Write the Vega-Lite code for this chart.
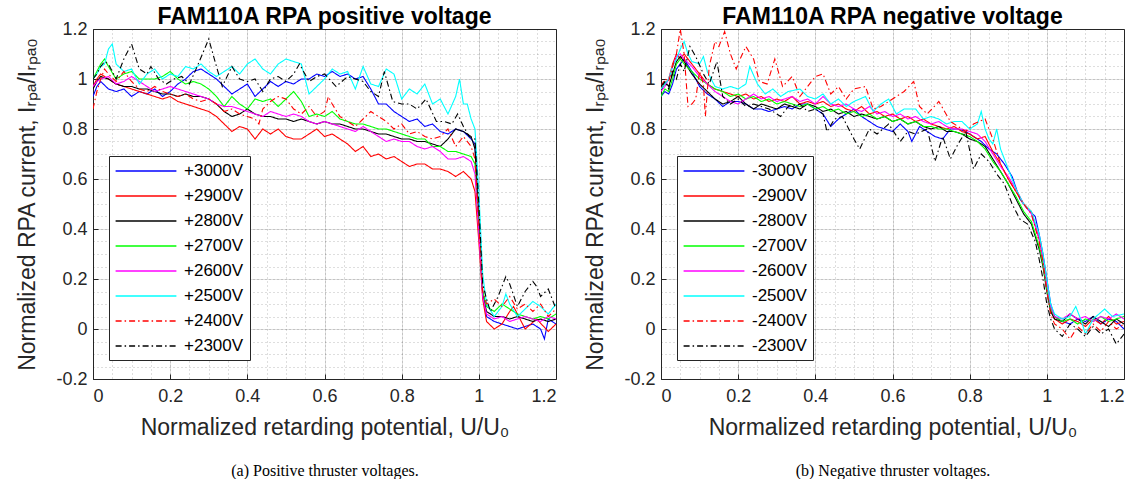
{
"$schema":"https://vega.github.io/schema/vega-lite/v6.json",
"background":"white",
"padding":{"left":16,"top":5,"right":5,"bottom":0},
"bounds":"flush",
"spacing":105,
"config":{
 "font":"Liberation Sans",
 "view":{"stroke":"#262626","strokeWidth":1},
 "axis":{"labelFont":"Liberation Sans","labelFontSize":18,"labelColor":"#262626","titleFont":"Liberation Sans","titleFontSize":23,"titleFontWeight":"normal","titleColor":"#262626","gridColor":"#262626","gridOpacity":0.15,"domain":false,"tickColor":"#262626","ticks":false},
 "legend":{"labelFont":"Liberation Sans","labelFontSize":17,"labelColor":"#000000","symbolType":"M-3.8,0H3.8","symbolSize":256,"symbolStrokeWidth":1.5,"symbolOffset":22,"labelOffset":29,"padding":6,"rowPadding":8,"strokeColor":"#262626","fillColor":"#ffffff"},
 "title":{"font":"Liberation Sans","fontSize":23,"fontWeight":"bold","color":"#000000","offset":-9}
},
"datasets":{
"pos":[
{"v":"+3000V","x":0,"y":0.93},{"v":"+3000V","x":0.01,"y":0.97},{"v":"+3000V","x":0.02,"y":0.99},{"v":"+3000V","x":0.04,"y":0.96},{"v":"+3000V","x":0.06,"y":0.95},{"v":"+3000V","x":0.08,"y":0.96},{"v":"+3000V","x":0.1,"y":0.93},{"v":"+3000V","x":0.12,"y":0.95},{"v":"+3000V","x":0.14,"y":0.94},{"v":"+3000V","x":0.16,"y":0.96},{"v":"+3000V","x":0.18,"y":0.93},{"v":"+3000V","x":0.2,"y":0.95},{"v":"+3000V","x":0.22,"y":0.98},{"v":"+3000V","x":0.24,"y":1.0},{"v":"+3000V","x":0.26,"y":1.03},{"v":"+3000V","x":0.28,"y":1.04},{"v":"+3000V","x":0.3,"y":1.02},{"v":"+3000V","x":0.32,"y":1.0},{"v":"+3000V","x":0.34,"y":0.97},{"v":"+3000V","x":0.36,"y":0.94},{"v":"+3000V","x":0.38,"y":0.96},{"v":"+3000V","x":0.4,"y":0.98},{"v":"+3000V","x":0.42,"y":0.93},{"v":"+3000V","x":0.44,"y":0.96},{"v":"+3000V","x":0.46,"y":0.99},{"v":"+3000V","x":0.48,"y":0.97},{"v":"+3000V","x":0.5,"y":0.99},{"v":"+3000V","x":0.52,"y":0.98},{"v":"+3000V","x":0.54,"y":1.0},{"v":"+3000V","x":0.56,"y":1.0},{"v":"+3000V","x":0.58,"y":1.02},{"v":"+3000V","x":0.6,"y":1.01},{"v":"+3000V","x":0.62,"y":1.03},{"v":"+3000V","x":0.64,"y":1.01},{"v":"+3000V","x":0.66,"y":1.02},{"v":"+3000V","x":0.68,"y":1.0},{"v":"+3000V","x":0.7,"y":1.01},{"v":"+3000V","x":0.72,"y":0.96},{"v":"+3000V","x":0.74,"y":0.9},{"v":"+3000V","x":0.76,"y":0.9},{"v":"+3000V","x":0.78,"y":0.87},{"v":"+3000V","x":0.8,"y":0.85},{"v":"+3000V","x":0.82,"y":0.83},{"v":"+3000V","x":0.84,"y":0.84},{"v":"+3000V","x":0.86,"y":0.81},{"v":"+3000V","x":0.88,"y":0.82},{"v":"+3000V","x":0.9,"y":0.79},{"v":"+3000V","x":0.92,"y":0.78},{"v":"+3000V","x":0.94,"y":0.8},{"v":"+3000V","x":0.96,"y":0.79},{"v":"+3000V","x":0.98,"y":0.76},{"v":"+3000V","x":0.99,"y":0.74},{"v":"+3000V","x":1.0,"y":0.45},{"v":"+3000V","x":1.01,"y":0.15},{"v":"+3000V","x":1.02,"y":0.05},{"v":"+3000V","x":1.04,"y":0.03},{"v":"+3000V","x":1.06,"y":0.02},{"v":"+3000V","x":1.08,"y":0.01},{"v":"+3000V","x":1.1,"y":0.0},{"v":"+3000V","x":1.12,"y":0.01},{"v":"+3000V","x":1.14,"y":0.02},{"v":"+3000V","x":1.16,"y":0.0},{"v":"+3000V","x":1.17,"y":-0.04},{"v":"+3000V","x":1.18,"y":0.04},{"v":"+3000V","x":1.2,"y":0.02},
{"v":"+2900V","x":0,"y":0.97},{"v":"+2900V","x":0.01,"y":1.0},{"v":"+2900V","x":0.02,"y":1.02},{"v":"+2900V","x":0.04,"y":1.0},{"v":"+2900V","x":0.06,"y":0.98},{"v":"+2900V","x":0.08,"y":0.97},{"v":"+2900V","x":0.1,"y":0.96},{"v":"+2900V","x":0.12,"y":0.95},{"v":"+2900V","x":0.14,"y":0.94},{"v":"+2900V","x":0.16,"y":0.93},{"v":"+2900V","x":0.18,"y":0.92},{"v":"+2900V","x":0.2,"y":0.93},{"v":"+2900V","x":0.22,"y":0.91},{"v":"+2900V","x":0.24,"y":0.9},{"v":"+2900V","x":0.26,"y":0.89},{"v":"+2900V","x":0.28,"y":0.88},{"v":"+2900V","x":0.3,"y":0.87},{"v":"+2900V","x":0.32,"y":0.85},{"v":"+2900V","x":0.34,"y":0.82},{"v":"+2900V","x":0.36,"y":0.79},{"v":"+2900V","x":0.38,"y":0.81},{"v":"+2900V","x":0.4,"y":0.8},{"v":"+2900V","x":0.42,"y":0.76},{"v":"+2900V","x":0.44,"y":0.8},{"v":"+2900V","x":0.46,"y":0.78},{"v":"+2900V","x":0.48,"y":0.8},{"v":"+2900V","x":0.5,"y":0.77},{"v":"+2900V","x":0.52,"y":0.76},{"v":"+2900V","x":0.54,"y":0.76},{"v":"+2900V","x":0.56,"y":0.78},{"v":"+2900V","x":0.58,"y":0.8},{"v":"+2900V","x":0.6,"y":0.77},{"v":"+2900V","x":0.62,"y":0.78},{"v":"+2900V","x":0.64,"y":0.76},{"v":"+2900V","x":0.66,"y":0.74},{"v":"+2900V","x":0.68,"y":0.71},{"v":"+2900V","x":0.7,"y":0.73},{"v":"+2900V","x":0.72,"y":0.69},{"v":"+2900V","x":0.74,"y":0.7},{"v":"+2900V","x":0.76,"y":0.68},{"v":"+2900V","x":0.78,"y":0.69},{"v":"+2900V","x":0.8,"y":0.67},{"v":"+2900V","x":0.82,"y":0.65},{"v":"+2900V","x":0.84,"y":0.66},{"v":"+2900V","x":0.86,"y":0.66},{"v":"+2900V","x":0.88,"y":0.64},{"v":"+2900V","x":0.9,"y":0.64},{"v":"+2900V","x":0.92,"y":0.63},{"v":"+2900V","x":0.94,"y":0.61},{"v":"+2900V","x":0.96,"y":0.63},{"v":"+2900V","x":0.98,"y":0.6},{"v":"+2900V","x":0.99,"y":0.55},{"v":"+2900V","x":1.0,"y":0.35},{"v":"+2900V","x":1.01,"y":0.12},{"v":"+2900V","x":1.02,"y":0.03},{"v":"+2900V","x":1.04,"y":0.0},{"v":"+2900V","x":1.06,"y":0.02},{"v":"+2900V","x":1.08,"y":0.07},{"v":"+2900V","x":1.09,"y":0.09},{"v":"+2900V","x":1.12,"y":0.0},{"v":"+2900V","x":1.15,"y":0.04},{"v":"+2900V","x":1.18,"y":-0.01},{"v":"+2900V","x":1.2,"y":0.02},
{"v":"+2800V","x":0,"y":0.96},{"v":"+2800V","x":0.01,"y":0.99},{"v":"+2800V","x":0.02,"y":1.01},{"v":"+2800V","x":0.04,"y":1.0},{"v":"+2800V","x":0.06,"y":0.98},{"v":"+2800V","x":0.08,"y":0.97},{"v":"+2800V","x":0.1,"y":0.97},{"v":"+2800V","x":0.12,"y":0.96},{"v":"+2800V","x":0.14,"y":0.96},{"v":"+2800V","x":0.16,"y":0.95},{"v":"+2800V","x":0.18,"y":0.94},{"v":"+2800V","x":0.2,"y":0.94},{"v":"+2800V","x":0.22,"y":0.93},{"v":"+2800V","x":0.24,"y":0.94},{"v":"+2800V","x":0.26,"y":0.93},{"v":"+2800V","x":0.28,"y":0.93},{"v":"+2800V","x":0.3,"y":0.92},{"v":"+2800V","x":0.32,"y":0.9},{"v":"+2800V","x":0.34,"y":0.87},{"v":"+2800V","x":0.36,"y":0.85},{"v":"+2800V","x":0.38,"y":0.86},{"v":"+2800V","x":0.4,"y":0.88},{"v":"+2800V","x":0.42,"y":0.86},{"v":"+2800V","x":0.44,"y":0.85},{"v":"+2800V","x":0.46,"y":0.85},{"v":"+2800V","x":0.48,"y":0.84},{"v":"+2800V","x":0.5,"y":0.84},{"v":"+2800V","x":0.52,"y":0.83},{"v":"+2800V","x":0.54,"y":0.84},{"v":"+2800V","x":0.56,"y":0.83},{"v":"+2800V","x":0.58,"y":0.82},{"v":"+2800V","x":0.6,"y":0.83},{"v":"+2800V","x":0.62,"y":0.82},{"v":"+2800V","x":0.64,"y":0.82},{"v":"+2800V","x":0.66,"y":0.81},{"v":"+2800V","x":0.68,"y":0.8},{"v":"+2800V","x":0.7,"y":0.8},{"v":"+2800V","x":0.72,"y":0.79},{"v":"+2800V","x":0.74,"y":0.78},{"v":"+2800V","x":0.76,"y":0.78},{"v":"+2800V","x":0.78,"y":0.77},{"v":"+2800V","x":0.8,"y":0.76},{"v":"+2800V","x":0.82,"y":0.76},{"v":"+2800V","x":0.84,"y":0.75},{"v":"+2800V","x":0.86,"y":0.75},{"v":"+2800V","x":0.88,"y":0.74},{"v":"+2800V","x":0.9,"y":0.73},{"v":"+2800V","x":0.92,"y":0.76},{"v":"+2800V","x":0.94,"y":0.8},{"v":"+2800V","x":0.96,"y":0.79},{"v":"+2800V","x":0.98,"y":0.77},{"v":"+2800V","x":0.99,"y":0.72},{"v":"+2800V","x":1.0,"y":0.42},{"v":"+2800V","x":1.01,"y":0.14},{"v":"+2800V","x":1.02,"y":0.07},{"v":"+2800V","x":1.04,"y":0.05},{"v":"+2800V","x":1.06,"y":0.05},{"v":"+2800V","x":1.08,"y":0.04},{"v":"+2800V","x":1.1,"y":0.05},{"v":"+2800V","x":1.12,"y":0.04},{"v":"+2800V","x":1.14,"y":0.03},{"v":"+2800V","x":1.16,"y":0.04},{"v":"+2800V","x":1.18,"y":0.03},{"v":"+2800V","x":1.2,"y":0.04},
{"v":"+2700V","x":0,"y":1.0},{"v":"+2700V","x":0.01,"y":1.03},{"v":"+2700V","x":0.02,"y":1.06},{"v":"+2700V","x":0.03,"y":1.08},{"v":"+2700V","x":0.04,"y":1.05},{"v":"+2700V","x":0.06,"y":1.0},{"v":"+2700V","x":0.08,"y":1.02},{"v":"+2700V","x":0.1,"y":1.03},{"v":"+2700V","x":0.12,"y":1.0},{"v":"+2700V","x":0.14,"y":1.0},{"v":"+2700V","x":0.16,"y":1.0},{"v":"+2700V","x":0.18,"y":1.01},{"v":"+2700V","x":0.2,"y":1.03},{"v":"+2700V","x":0.22,"y":1.0},{"v":"+2700V","x":0.24,"y":0.98},{"v":"+2700V","x":0.26,"y":0.99},{"v":"+2700V","x":0.28,"y":0.98},{"v":"+2700V","x":0.3,"y":0.96},{"v":"+2700V","x":0.32,"y":0.93},{"v":"+2700V","x":0.34,"y":0.89},{"v":"+2700V","x":0.36,"y":0.93},{"v":"+2700V","x":0.38,"y":0.9},{"v":"+2700V","x":0.4,"y":0.88},{"v":"+2700V","x":0.42,"y":0.92},{"v":"+2700V","x":0.44,"y":0.91},{"v":"+2700V","x":0.46,"y":0.92},{"v":"+2700V","x":0.48,"y":0.89},{"v":"+2700V","x":0.5,"y":0.92},{"v":"+2700V","x":0.52,"y":0.95},{"v":"+2700V","x":0.54,"y":0.91},{"v":"+2700V","x":0.56,"y":0.85},{"v":"+2700V","x":0.58,"y":0.86},{"v":"+2700V","x":0.6,"y":0.85},{"v":"+2700V","x":0.62,"y":0.87},{"v":"+2700V","x":0.64,"y":0.84},{"v":"+2700V","x":0.66,"y":0.83},{"v":"+2700V","x":0.68,"y":0.82},{"v":"+2700V","x":0.7,"y":0.82},{"v":"+2700V","x":0.72,"y":0.81},{"v":"+2700V","x":0.74,"y":0.8},{"v":"+2700V","x":0.76,"y":0.8},{"v":"+2700V","x":0.78,"y":0.79},{"v":"+2700V","x":0.8,"y":0.78},{"v":"+2700V","x":0.82,"y":0.77},{"v":"+2700V","x":0.84,"y":0.76},{"v":"+2700V","x":0.86,"y":0.76},{"v":"+2700V","x":0.88,"y":0.73},{"v":"+2700V","x":0.9,"y":0.73},{"v":"+2700V","x":0.92,"y":0.71},{"v":"+2700V","x":0.94,"y":0.71},{"v":"+2700V","x":0.96,"y":0.7},{"v":"+2700V","x":0.98,"y":0.69},{"v":"+2700V","x":0.99,"y":0.66},{"v":"+2700V","x":1.0,"y":0.4},{"v":"+2700V","x":1.01,"y":0.15},{"v":"+2700V","x":1.02,"y":0.09},{"v":"+2700V","x":1.04,"y":0.07},{"v":"+2700V","x":1.06,"y":0.1},{"v":"+2700V","x":1.08,"y":0.08},{"v":"+2700V","x":1.1,"y":0.06},{"v":"+2700V","x":1.12,"y":0.05},{"v":"+2700V","x":1.14,"y":0.04},{"v":"+2700V","x":1.16,"y":0.05},{"v":"+2700V","x":1.18,"y":0.04},{"v":"+2700V","x":1.2,"y":0.06},
{"v":"+2600V","x":0,"y":0.97},{"v":"+2600V","x":0.01,"y":0.99},{"v":"+2600V","x":0.02,"y":1.0},{"v":"+2600V","x":0.04,"y":1.01},{"v":"+2600V","x":0.06,"y":0.98},{"v":"+2600V","x":0.08,"y":0.99},{"v":"+2600V","x":0.1,"y":1.01},{"v":"+2600V","x":0.12,"y":0.99},{"v":"+2600V","x":0.14,"y":0.97},{"v":"+2600V","x":0.16,"y":0.95},{"v":"+2600V","x":0.18,"y":0.96},{"v":"+2600V","x":0.2,"y":0.97},{"v":"+2600V","x":0.22,"y":0.96},{"v":"+2600V","x":0.24,"y":0.95},{"v":"+2600V","x":0.26,"y":0.94},{"v":"+2600V","x":0.28,"y":0.93},{"v":"+2600V","x":0.3,"y":0.92},{"v":"+2600V","x":0.32,"y":0.9},{"v":"+2600V","x":0.34,"y":0.89},{"v":"+2600V","x":0.36,"y":0.89},{"v":"+2600V","x":0.38,"y":0.88},{"v":"+2600V","x":0.4,"y":0.87},{"v":"+2600V","x":0.42,"y":0.86},{"v":"+2600V","x":0.44,"y":0.85},{"v":"+2600V","x":0.46,"y":0.87},{"v":"+2600V","x":0.48,"y":0.86},{"v":"+2600V","x":0.5,"y":0.85},{"v":"+2600V","x":0.52,"y":0.86},{"v":"+2600V","x":0.54,"y":0.85},{"v":"+2600V","x":0.56,"y":0.83},{"v":"+2600V","x":0.58,"y":0.82},{"v":"+2600V","x":0.6,"y":0.83},{"v":"+2600V","x":0.62,"y":0.82},{"v":"+2600V","x":0.64,"y":0.81},{"v":"+2600V","x":0.66,"y":0.8},{"v":"+2600V","x":0.68,"y":0.79},{"v":"+2600V","x":0.7,"y":0.81},{"v":"+2600V","x":0.72,"y":0.79},{"v":"+2600V","x":0.74,"y":0.77},{"v":"+2600V","x":0.76,"y":0.75},{"v":"+2600V","x":0.78,"y":0.76},{"v":"+2600V","x":0.8,"y":0.75},{"v":"+2600V","x":0.82,"y":0.75},{"v":"+2600V","x":0.84,"y":0.73},{"v":"+2600V","x":0.86,"y":0.72},{"v":"+2600V","x":0.88,"y":0.73},{"v":"+2600V","x":0.9,"y":0.71},{"v":"+2600V","x":0.92,"y":0.68},{"v":"+2600V","x":0.94,"y":0.68},{"v":"+2600V","x":0.96,"y":0.69},{"v":"+2600V","x":0.98,"y":0.67},{"v":"+2600V","x":0.99,"y":0.62},{"v":"+2600V","x":1.0,"y":0.38},{"v":"+2600V","x":1.01,"y":0.13},{"v":"+2600V","x":1.02,"y":0.06},{"v":"+2600V","x":1.04,"y":0.04},{"v":"+2600V","x":1.06,"y":0.05},{"v":"+2600V","x":1.08,"y":0.03},{"v":"+2600V","x":1.1,"y":0.04},{"v":"+2600V","x":1.12,"y":0.05},{"v":"+2600V","x":1.14,"y":0.04},{"v":"+2600V","x":1.16,"y":0.03},{"v":"+2600V","x":1.18,"y":0.05},{"v":"+2600V","x":1.2,"y":0.04},
{"v":"+2500V","x":0,"y":1.0},{"v":"+2500V","x":0.01,"y":1.02},{"v":"+2500V","x":0.02,"y":1.05},{"v":"+2500V","x":0.03,"y":1.06},{"v":"+2500V","x":0.04,"y":1.12},{"v":"+2500V","x":0.05,"y":1.14},{"v":"+2500V","x":0.06,"y":1.06},{"v":"+2500V","x":0.08,"y":1.03},{"v":"+2500V","x":0.1,"y":1.04},{"v":"+2500V","x":0.12,"y":0.98},{"v":"+2500V","x":0.14,"y":1.02},{"v":"+2500V","x":0.16,"y":1.04},{"v":"+2500V","x":0.18,"y":1.0},{"v":"+2500V","x":0.2,"y":1.02},{"v":"+2500V","x":0.22,"y":1.01},{"v":"+2500V","x":0.24,"y":1.05},{"v":"+2500V","x":0.26,"y":1.04},{"v":"+2500V","x":0.28,"y":1.06},{"v":"+2500V","x":0.3,"y":1.03},{"v":"+2500V","x":0.32,"y":1.01},{"v":"+2500V","x":0.34,"y":1.03},{"v":"+2500V","x":0.36,"y":1.05},{"v":"+2500V","x":0.38,"y":1.02},{"v":"+2500V","x":0.4,"y":1.06},{"v":"+2500V","x":0.42,"y":1.08},{"v":"+2500V","x":0.44,"y":1.04},{"v":"+2500V","x":0.46,"y":1.02},{"v":"+2500V","x":0.48,"y":1.06},{"v":"+2500V","x":0.5,"y":1.08},{"v":"+2500V","x":0.52,"y":1.07},{"v":"+2500V","x":0.54,"y":1.06},{"v":"+2500V","x":0.56,"y":0.94},{"v":"+2500V","x":0.58,"y":0.97},{"v":"+2500V","x":0.6,"y":1.0},{"v":"+2500V","x":0.62,"y":1.04},{"v":"+2500V","x":0.64,"y":1.02},{"v":"+2500V","x":0.66,"y":1.03},{"v":"+2500V","x":0.68,"y":0.96},{"v":"+2500V","x":0.7,"y":1.05},{"v":"+2500V","x":0.72,"y":0.98},{"v":"+2500V","x":0.74,"y":0.97},{"v":"+2500V","x":0.76,"y":1.04},{"v":"+2500V","x":0.78,"y":1.02},{"v":"+2500V","x":0.8,"y":0.92},{"v":"+2500V","x":0.82,"y":0.96},{"v":"+2500V","x":0.84,"y":0.94},{"v":"+2500V","x":0.86,"y":0.98},{"v":"+2500V","x":0.88,"y":0.9},{"v":"+2500V","x":0.9,"y":0.92},{"v":"+2500V","x":0.92,"y":0.86},{"v":"+2500V","x":0.94,"y":0.93},{"v":"+2500V","x":0.95,"y":1.0},{"v":"+2500V","x":0.96,"y":0.9},{"v":"+2500V","x":0.97,"y":0.9},{"v":"+2500V","x":0.98,"y":0.84},{"v":"+2500V","x":0.99,"y":0.8},{"v":"+2500V","x":1.0,"y":0.55},{"v":"+2500V","x":1.01,"y":0.22},{"v":"+2500V","x":1.02,"y":0.1},{"v":"+2500V","x":1.04,"y":0.05},{"v":"+2500V","x":1.06,"y":0.09},{"v":"+2500V","x":1.07,"y":0.14},{"v":"+2500V","x":1.08,"y":0.1},{"v":"+2500V","x":1.1,"y":0.05},{"v":"+2500V","x":1.12,"y":0.08},{"v":"+2500V","x":1.14,"y":0.11},{"v":"+2500V","x":1.16,"y":0.09},{"v":"+2500V","x":1.18,"y":0.06},{"v":"+2500V","x":1.2,"y":0.1},
{"v":"+2400V","x":0,"y":0.88},{"v":"+2400V","x":0.01,"y":0.95},{"v":"+2400V","x":0.02,"y":1.0},{"v":"+2400V","x":0.03,"y":1.04},{"v":"+2400V","x":0.04,"y":1.02},{"v":"+2400V","x":0.06,"y":0.99},{"v":"+2400V","x":0.08,"y":1.03},{"v":"+2400V","x":0.1,"y":0.99},{"v":"+2400V","x":0.12,"y":0.96},{"v":"+2400V","x":0.14,"y":0.95},{"v":"+2400V","x":0.16,"y":0.97},{"v":"+2400V","x":0.18,"y":0.95},{"v":"+2400V","x":0.2,"y":0.94},{"v":"+2400V","x":0.22,"y":0.93},{"v":"+2400V","x":0.24,"y":0.94},{"v":"+2400V","x":0.26,"y":0.92},{"v":"+2400V","x":0.28,"y":0.91},{"v":"+2400V","x":0.3,"y":0.92},{"v":"+2400V","x":0.32,"y":0.9},{"v":"+2400V","x":0.34,"y":0.87},{"v":"+2400V","x":0.36,"y":0.88},{"v":"+2400V","x":0.38,"y":0.86},{"v":"+2400V","x":0.4,"y":0.85},{"v":"+2400V","x":0.42,"y":0.84},{"v":"+2400V","x":0.43,"y":0.82},{"v":"+2400V","x":0.44,"y":0.88},{"v":"+2400V","x":0.46,"y":0.91},{"v":"+2400V","x":0.48,"y":0.93},{"v":"+2400V","x":0.5,"y":0.92},{"v":"+2400V","x":0.52,"y":0.88},{"v":"+2400V","x":0.54,"y":0.86},{"v":"+2400V","x":0.56,"y":0.89},{"v":"+2400V","x":0.58,"y":0.85},{"v":"+2400V","x":0.6,"y":0.87},{"v":"+2400V","x":0.61,"y":0.93},{"v":"+2400V","x":0.62,"y":0.9},{"v":"+2400V","x":0.64,"y":0.85},{"v":"+2400V","x":0.66,"y":0.83},{"v":"+2400V","x":0.68,"y":0.81},{"v":"+2400V","x":0.7,"y":0.84},{"v":"+2400V","x":0.72,"y":0.87},{"v":"+2400V","x":0.74,"y":0.85},{"v":"+2400V","x":0.76,"y":0.83},{"v":"+2400V","x":0.78,"y":0.8},{"v":"+2400V","x":0.8,"y":0.82},{"v":"+2400V","x":0.82,"y":0.78},{"v":"+2400V","x":0.84,"y":0.79},{"v":"+2400V","x":0.86,"y":0.77},{"v":"+2400V","x":0.88,"y":0.76},{"v":"+2400V","x":0.9,"y":0.77},{"v":"+2400V","x":0.92,"y":0.8},{"v":"+2400V","x":0.94,"y":0.73},{"v":"+2400V","x":0.96,"y":0.77},{"v":"+2400V","x":0.98,"y":0.73},{"v":"+2400V","x":0.99,"y":0.68},{"v":"+2400V","x":1.0,"y":0.42},{"v":"+2400V","x":1.01,"y":0.15},{"v":"+2400V","x":1.02,"y":0.1},{"v":"+2400V","x":1.04,"y":0.12},{"v":"+2400V","x":1.06,"y":0.09},{"v":"+2400V","x":1.08,"y":0.13},{"v":"+2400V","x":1.1,"y":0.08},{"v":"+2400V","x":1.12,"y":0.1},{"v":"+2400V","x":1.14,"y":0.07},{"v":"+2400V","x":1.16,"y":0.1},{"v":"+2400V","x":1.18,"y":0.05},{"v":"+2400V","x":1.2,"y":0.08},
{"v":"+2300V","x":0,"y":1.0},{"v":"+2300V","x":0.01,"y":1.02},{"v":"+2300V","x":0.02,"y":1.05},{"v":"+2300V","x":0.03,"y":1.07},{"v":"+2300V","x":0.04,"y":1.06},{"v":"+2300V","x":0.06,"y":1.0},{"v":"+2300V","x":0.08,"y":1.08},{"v":"+2300V","x":0.1,"y":1.14},{"v":"+2300V","x":0.12,"y":1.04},{"v":"+2300V","x":0.14,"y":1.02},{"v":"+2300V","x":0.15,"y":1.05},{"v":"+2300V","x":0.17,"y":1.0},{"v":"+2300V","x":0.19,"y":0.98},{"v":"+2300V","x":0.21,"y":1.0},{"v":"+2300V","x":0.23,"y":1.01},{"v":"+2300V","x":0.25,"y":0.98},{"v":"+2300V","x":0.27,"y":1.05},{"v":"+2300V","x":0.3,"y":1.16},{"v":"+2300V","x":0.32,"y":1.05},{"v":"+2300V","x":0.335,"y":0.97},{"v":"+2300V","x":0.36,"y":1.05},{"v":"+2300V","x":0.38,"y":1.0},{"v":"+2300V","x":0.4,"y":0.99},{"v":"+2300V","x":0.42,"y":1.0},{"v":"+2300V","x":0.44,"y":0.95},{"v":"+2300V","x":0.46,"y":1.0},{"v":"+2300V","x":0.48,"y":1.01},{"v":"+2300V","x":0.5,"y":0.99},{"v":"+2300V","x":0.52,"y":1.02},{"v":"+2300V","x":0.535,"y":1.06},{"v":"+2300V","x":0.56,"y":0.99},{"v":"+2300V","x":0.58,"y":1.01},{"v":"+2300V","x":0.6,"y":1.02},{"v":"+2300V","x":0.63,"y":0.97},{"v":"+2300V","x":0.66,"y":1.01},{"v":"+2300V","x":0.68,"y":1.0},{"v":"+2300V","x":0.7,"y":0.99},{"v":"+2300V","x":0.72,"y":0.95},{"v":"+2300V","x":0.74,"y":0.93},{"v":"+2300V","x":0.755,"y":1.03},{"v":"+2300V","x":0.777,"y":0.91},{"v":"+2300V","x":0.8,"y":0.9},{"v":"+2300V","x":0.82,"y":0.9},{"v":"+2300V","x":0.84,"y":0.88},{"v":"+2300V","x":0.863,"y":0.92},{"v":"+2300V","x":0.89,"y":0.83},{"v":"+2300V","x":0.91,"y":0.83},{"v":"+2300V","x":0.93,"y":0.82},{"v":"+2300V","x":0.945,"y":0.86},{"v":"+2300V","x":0.96,"y":0.81},{"v":"+2300V","x":0.975,"y":0.77},{"v":"+2300V","x":0.99,"y":0.76},{"v":"+2300V","x":1.0,"y":0.5},{"v":"+2300V","x":1.01,"y":0.18},{"v":"+2300V","x":1.02,"y":0.12},{"v":"+2300V","x":1.03,"y":0.07},{"v":"+2300V","x":1.05,"y":0.13},{"v":"+2300V","x":1.07,"y":0.21},{"v":"+2300V","x":1.08,"y":0.18},{"v":"+2300V","x":1.1,"y":0.09},{"v":"+2300V","x":1.12,"y":0.15},{"v":"+2300V","x":1.14,"y":0.19},{"v":"+2300V","x":1.15,"y":0.17},{"v":"+2300V","x":1.16,"y":0.13},{"v":"+2300V","x":1.18,"y":0.16},{"v":"+2300V","x":1.2,"y":0.08}
],
"neg":[
{"v":"-3000V","x":0,"y":0.93},{"v":"-3000V","x":0.01,"y":0.95},{"v":"-3000V","x":0.02,"y":0.94},{"v":"-3000V","x":0.03,"y":0.98},{"v":"-3000V","x":0.04,"y":1.04},{"v":"-3000V","x":0.05,"y":1.06},{"v":"-3000V","x":0.06,"y":1.08},{"v":"-3000V","x":0.08,"y":1.03},{"v":"-3000V","x":0.1,"y":0.97},{"v":"-3000V","x":0.12,"y":0.94},{"v":"-3000V","x":0.14,"y":0.92},{"v":"-3000V","x":0.16,"y":0.89},{"v":"-3000V","x":0.18,"y":0.91},{"v":"-3000V","x":0.2,"y":0.91},{"v":"-3000V","x":0.22,"y":0.9},{"v":"-3000V","x":0.24,"y":0.88},{"v":"-3000V","x":0.26,"y":0.88},{"v":"-3000V","x":0.28,"y":0.87},{"v":"-3000V","x":0.3,"y":0.88},{"v":"-3000V","x":0.32,"y":0.89},{"v":"-3000V","x":0.34,"y":0.88},{"v":"-3000V","x":0.36,"y":0.9},{"v":"-3000V","x":0.38,"y":0.9},{"v":"-3000V","x":0.4,"y":0.88},{"v":"-3000V","x":0.42,"y":0.86},{"v":"-3000V","x":0.44,"y":0.81},{"v":"-3000V","x":0.46,"y":0.84},{"v":"-3000V","x":0.48,"y":0.86},{"v":"-3000V","x":0.5,"y":0.88},{"v":"-3000V","x":0.52,"y":0.85},{"v":"-3000V","x":0.54,"y":0.83},{"v":"-3000V","x":0.56,"y":0.81},{"v":"-3000V","x":0.58,"y":0.8},{"v":"-3000V","x":0.6,"y":0.79},{"v":"-3000V","x":0.62,"y":0.82},{"v":"-3000V","x":0.64,"y":0.79},{"v":"-3000V","x":0.65,"y":0.75},{"v":"-3000V","x":0.67,"y":0.81},{"v":"-3000V","x":0.69,"y":0.79},{"v":"-3000V","x":0.71,"y":0.77},{"v":"-3000V","x":0.73,"y":0.76},{"v":"-3000V","x":0.75,"y":0.8},{"v":"-3000V","x":0.77,"y":0.8},{"v":"-3000V","x":0.79,"y":0.79},{"v":"-3000V","x":0.81,"y":0.77},{"v":"-3000V","x":0.83,"y":0.75},{"v":"-3000V","x":0.85,"y":0.72},{"v":"-3000V","x":0.87,"y":0.7},{"v":"-3000V","x":0.89,"y":0.66},{"v":"-3000V","x":0.91,"y":0.61},{"v":"-3000V","x":0.93,"y":0.52},{"v":"-3000V","x":0.95,"y":0.48},{"v":"-3000V","x":0.97,"y":0.45},{"v":"-3000V","x":0.98,"y":0.38},{"v":"-3000V","x":0.99,"y":0.3},{"v":"-3000V","x":1.0,"y":0.2},{"v":"-3000V","x":1.01,"y":0.1},{"v":"-3000V","x":1.02,"y":0.05},{"v":"-3000V","x":1.04,"y":0.03},{"v":"-3000V","x":1.06,"y":0.02},{"v":"-3000V","x":1.08,"y":0.04},{"v":"-3000V","x":1.1,"y":0.03},{"v":"-3000V","x":1.12,"y":0.05},{"v":"-3000V","x":1.14,"y":0.02},{"v":"-3000V","x":1.16,"y":0.04},{"v":"-3000V","x":1.18,"y":0.03},{"v":"-3000V","x":1.2,"y":0.0},
{"v":"-2900V","x":0,"y":0.96},{"v":"-2900V","x":0.01,"y":0.98},{"v":"-2900V","x":0.02,"y":1.0},{"v":"-2900V","x":0.03,"y":1.06},{"v":"-2900V","x":0.04,"y":1.1},{"v":"-2900V","x":0.05,"y":1.08},{"v":"-2900V","x":0.06,"y":1.1},{"v":"-2900V","x":0.08,"y":1.06},{"v":"-2900V","x":0.1,"y":1.02},{"v":"-2900V","x":0.12,"y":0.98},{"v":"-2900V","x":0.14,"y":0.96},{"v":"-2900V","x":0.16,"y":0.95},{"v":"-2900V","x":0.18,"y":0.94},{"v":"-2900V","x":0.2,"y":0.93},{"v":"-2900V","x":0.22,"y":0.94},{"v":"-2900V","x":0.24,"y":0.92},{"v":"-2900V","x":0.26,"y":0.93},{"v":"-2900V","x":0.28,"y":0.91},{"v":"-2900V","x":0.3,"y":0.92},{"v":"-2900V","x":0.32,"y":0.91},{"v":"-2900V","x":0.34,"y":0.93},{"v":"-2900V","x":0.36,"y":0.9},{"v":"-2900V","x":0.38,"y":0.91},{"v":"-2900V","x":0.4,"y":0.9},{"v":"-2900V","x":0.42,"y":0.91},{"v":"-2900V","x":0.44,"y":0.89},{"v":"-2900V","x":0.46,"y":0.9},{"v":"-2900V","x":0.48,"y":0.88},{"v":"-2900V","x":0.5,"y":0.87},{"v":"-2900V","x":0.52,"y":0.89},{"v":"-2900V","x":0.54,"y":0.86},{"v":"-2900V","x":0.56,"y":0.87},{"v":"-2900V","x":0.58,"y":0.85},{"v":"-2900V","x":0.6,"y":0.86},{"v":"-2900V","x":0.62,"y":0.84},{"v":"-2900V","x":0.64,"y":0.85},{"v":"-2900V","x":0.66,"y":0.83},{"v":"-2900V","x":0.68,"y":0.84},{"v":"-2900V","x":0.7,"y":0.82},{"v":"-2900V","x":0.72,"y":0.81},{"v":"-2900V","x":0.74,"y":0.8},{"v":"-2900V","x":0.76,"y":0.81},{"v":"-2900V","x":0.78,"y":0.79},{"v":"-2900V","x":0.8,"y":0.78},{"v":"-2900V","x":0.82,"y":0.76},{"v":"-2900V","x":0.84,"y":0.77},{"v":"-2900V","x":0.86,"y":0.71},{"v":"-2900V","x":0.88,"y":0.66},{"v":"-2900V","x":0.9,"y":0.6},{"v":"-2900V","x":0.92,"y":0.55},{"v":"-2900V","x":0.94,"y":0.5},{"v":"-2900V","x":0.96,"y":0.47},{"v":"-2900V","x":0.98,"y":0.36},{"v":"-2900V","x":0.99,"y":0.28},{"v":"-2900V","x":1.0,"y":0.17},{"v":"-2900V","x":1.01,"y":0.08},{"v":"-2900V","x":1.02,"y":0.04},{"v":"-2900V","x":1.04,"y":0.02},{"v":"-2900V","x":1.06,"y":0.04},{"v":"-2900V","x":1.08,"y":0.03},{"v":"-2900V","x":1.1,"y":0.01},{"v":"-2900V","x":1.12,"y":0.04},{"v":"-2900V","x":1.14,"y":0.02},{"v":"-2900V","x":1.16,"y":0.05},{"v":"-2900V","x":1.18,"y":0.02},{"v":"-2900V","x":1.2,"y":0.03},
{"v":"-2800V","x":0,"y":0.95},{"v":"-2800V","x":0.01,"y":0.99},{"v":"-2800V","x":0.02,"y":0.97},{"v":"-2800V","x":0.03,"y":1.02},{"v":"-2800V","x":0.04,"y":1.07},{"v":"-2800V","x":0.05,"y":1.09},{"v":"-2800V","x":0.06,"y":1.07},{"v":"-2800V","x":0.08,"y":1.02},{"v":"-2800V","x":0.1,"y":0.98},{"v":"-2800V","x":0.12,"y":0.95},{"v":"-2800V","x":0.14,"y":0.92},{"v":"-2800V","x":0.16,"y":0.9},{"v":"-2800V","x":0.18,"y":0.91},{"v":"-2800V","x":0.2,"y":0.93},{"v":"-2800V","x":0.22,"y":0.9},{"v":"-2800V","x":0.24,"y":0.88},{"v":"-2800V","x":0.26,"y":0.9},{"v":"-2800V","x":0.28,"y":0.89},{"v":"-2800V","x":0.3,"y":0.88},{"v":"-2800V","x":0.32,"y":0.9},{"v":"-2800V","x":0.34,"y":0.89},{"v":"-2800V","x":0.36,"y":0.88},{"v":"-2800V","x":0.38,"y":0.9},{"v":"-2800V","x":0.4,"y":0.89},{"v":"-2800V","x":0.42,"y":0.87},{"v":"-2800V","x":0.44,"y":0.88},{"v":"-2800V","x":0.46,"y":0.86},{"v":"-2800V","x":0.48,"y":0.87},{"v":"-2800V","x":0.5,"y":0.85},{"v":"-2800V","x":0.52,"y":0.86},{"v":"-2800V","x":0.54,"y":0.85},{"v":"-2800V","x":0.56,"y":0.84},{"v":"-2800V","x":0.58,"y":0.85},{"v":"-2800V","x":0.6,"y":0.83},{"v":"-2800V","x":0.62,"y":0.84},{"v":"-2800V","x":0.64,"y":0.82},{"v":"-2800V","x":0.66,"y":0.83},{"v":"-2800V","x":0.68,"y":0.81},{"v":"-2800V","x":0.7,"y":0.8},{"v":"-2800V","x":0.72,"y":0.81},{"v":"-2800V","x":0.74,"y":0.79},{"v":"-2800V","x":0.76,"y":0.79},{"v":"-2800V","x":0.78,"y":0.78},{"v":"-2800V","x":0.8,"y":0.76},{"v":"-2800V","x":0.82,"y":0.75},{"v":"-2800V","x":0.84,"y":0.73},{"v":"-2800V","x":0.86,"y":0.68},{"v":"-2800V","x":0.88,"y":0.63},{"v":"-2800V","x":0.9,"y":0.58},{"v":"-2800V","x":0.92,"y":0.52},{"v":"-2800V","x":0.94,"y":0.46},{"v":"-2800V","x":0.96,"y":0.42},{"v":"-2800V","x":0.98,"y":0.32},{"v":"-2800V","x":0.99,"y":0.25},{"v":"-2800V","x":1.0,"y":0.15},{"v":"-2800V","x":1.01,"y":0.07},{"v":"-2800V","x":1.02,"y":0.04},{"v":"-2800V","x":1.04,"y":0.03},{"v":"-2800V","x":1.06,"y":0.06},{"v":"-2800V","x":1.08,"y":0.04},{"v":"-2800V","x":1.1,"y":0.02},{"v":"-2800V","x":1.12,"y":0.05},{"v":"-2800V","x":1.14,"y":0.03},{"v":"-2800V","x":1.16,"y":0.01},{"v":"-2800V","x":1.18,"y":0.04},{"v":"-2800V","x":1.2,"y":0.02},
{"v":"-2700V","x":0,"y":0.93},{"v":"-2700V","x":0.01,"y":0.96},{"v":"-2700V","x":0.02,"y":0.95},{"v":"-2700V","x":0.03,"y":1.0},{"v":"-2700V","x":0.04,"y":1.06},{"v":"-2700V","x":0.05,"y":1.08},{"v":"-2700V","x":0.06,"y":1.06},{"v":"-2700V","x":0.08,"y":1.03},{"v":"-2700V","x":0.1,"y":1.0},{"v":"-2700V","x":0.12,"y":0.98},{"v":"-2700V","x":0.14,"y":0.96},{"v":"-2700V","x":0.16,"y":0.95},{"v":"-2700V","x":0.18,"y":0.93},{"v":"-2700V","x":0.2,"y":0.94},{"v":"-2700V","x":0.22,"y":0.92},{"v":"-2700V","x":0.24,"y":0.93},{"v":"-2700V","x":0.26,"y":0.91},{"v":"-2700V","x":0.28,"y":0.92},{"v":"-2700V","x":0.3,"y":0.9},{"v":"-2700V","x":0.32,"y":0.91},{"v":"-2700V","x":0.34,"y":0.9},{"v":"-2700V","x":0.36,"y":0.89},{"v":"-2700V","x":0.38,"y":0.9},{"v":"-2700V","x":0.4,"y":0.88},{"v":"-2700V","x":0.42,"y":0.89},{"v":"-2700V","x":0.44,"y":0.87},{"v":"-2700V","x":0.46,"y":0.88},{"v":"-2700V","x":0.48,"y":0.86},{"v":"-2700V","x":0.5,"y":0.87},{"v":"-2700V","x":0.52,"y":0.85},{"v":"-2700V","x":0.54,"y":0.86},{"v":"-2700V","x":0.56,"y":0.84},{"v":"-2700V","x":0.58,"y":0.85},{"v":"-2700V","x":0.6,"y":0.83},{"v":"-2700V","x":0.62,"y":0.84},{"v":"-2700V","x":0.64,"y":0.82},{"v":"-2700V","x":0.66,"y":0.83},{"v":"-2700V","x":0.68,"y":0.81},{"v":"-2700V","x":0.7,"y":0.81},{"v":"-2700V","x":0.72,"y":0.8},{"v":"-2700V","x":0.74,"y":0.8},{"v":"-2700V","x":0.76,"y":0.79},{"v":"-2700V","x":0.78,"y":0.78},{"v":"-2700V","x":0.8,"y":0.77},{"v":"-2700V","x":0.82,"y":0.75},{"v":"-2700V","x":0.84,"y":0.72},{"v":"-2700V","x":0.86,"y":0.67},{"v":"-2700V","x":0.88,"y":0.63},{"v":"-2700V","x":0.9,"y":0.58},{"v":"-2700V","x":0.92,"y":0.53},{"v":"-2700V","x":0.94,"y":0.47},{"v":"-2700V","x":0.96,"y":0.43},{"v":"-2700V","x":0.98,"y":0.33},{"v":"-2700V","x":0.99,"y":0.26},{"v":"-2700V","x":1.0,"y":0.16},{"v":"-2700V","x":1.01,"y":0.08},{"v":"-2700V","x":1.02,"y":0.05},{"v":"-2700V","x":1.04,"y":0.03},{"v":"-2700V","x":1.06,"y":0.04},{"v":"-2700V","x":1.08,"y":0.02},{"v":"-2700V","x":1.1,"y":0.04},{"v":"-2700V","x":1.12,"y":0.03},{"v":"-2700V","x":1.14,"y":0.05},{"v":"-2700V","x":1.16,"y":0.03},{"v":"-2700V","x":1.18,"y":0.04},{"v":"-2700V","x":1.2,"y":0.05},
{"v":"-2600V","x":0,"y":0.95},{"v":"-2600V","x":0.01,"y":0.97},{"v":"-2600V","x":0.02,"y":1.0},{"v":"-2600V","x":0.03,"y":1.05},{"v":"-2600V","x":0.04,"y":1.09},{"v":"-2600V","x":0.05,"y":1.1},{"v":"-2600V","x":0.06,"y":1.08},{"v":"-2600V","x":0.08,"y":1.05},{"v":"-2600V","x":0.1,"y":1.01},{"v":"-2600V","x":0.12,"y":0.98},{"v":"-2600V","x":0.14,"y":0.95},{"v":"-2600V","x":0.16,"y":0.93},{"v":"-2600V","x":0.18,"y":0.91},{"v":"-2600V","x":0.2,"y":0.9},{"v":"-2600V","x":0.22,"y":0.92},{"v":"-2600V","x":0.24,"y":0.94},{"v":"-2600V","x":0.26,"y":0.92},{"v":"-2600V","x":0.28,"y":0.93},{"v":"-2600V","x":0.3,"y":0.91},{"v":"-2600V","x":0.32,"y":0.92},{"v":"-2600V","x":0.34,"y":0.93},{"v":"-2600V","x":0.36,"y":0.91},{"v":"-2600V","x":0.38,"y":0.92},{"v":"-2600V","x":0.4,"y":0.9},{"v":"-2600V","x":0.42,"y":0.93},{"v":"-2600V","x":0.44,"y":0.9},{"v":"-2600V","x":0.46,"y":0.89},{"v":"-2600V","x":0.48,"y":0.9},{"v":"-2600V","x":0.5,"y":0.88},{"v":"-2600V","x":0.52,"y":0.87},{"v":"-2600V","x":0.54,"y":0.89},{"v":"-2600V","x":0.56,"y":0.86},{"v":"-2600V","x":0.58,"y":0.87},{"v":"-2600V","x":0.6,"y":0.85},{"v":"-2600V","x":0.62,"y":0.86},{"v":"-2600V","x":0.64,"y":0.84},{"v":"-2600V","x":0.66,"y":0.85},{"v":"-2600V","x":0.68,"y":0.83},{"v":"-2600V","x":0.7,"y":0.82},{"v":"-2600V","x":0.72,"y":0.83},{"v":"-2600V","x":0.74,"y":0.81},{"v":"-2600V","x":0.76,"y":0.8},{"v":"-2600V","x":0.78,"y":0.8},{"v":"-2600V","x":0.8,"y":0.79},{"v":"-2600V","x":0.82,"y":0.78},{"v":"-2600V","x":0.84,"y":0.75},{"v":"-2600V","x":0.86,"y":0.7},{"v":"-2600V","x":0.88,"y":0.65},{"v":"-2600V","x":0.9,"y":0.61},{"v":"-2600V","x":0.92,"y":0.56},{"v":"-2600V","x":0.94,"y":0.5},{"v":"-2600V","x":0.96,"y":0.46},{"v":"-2600V","x":0.98,"y":0.36},{"v":"-2600V","x":0.99,"y":0.28},{"v":"-2600V","x":1.0,"y":0.18},{"v":"-2600V","x":1.01,"y":0.09},{"v":"-2600V","x":1.02,"y":0.05},{"v":"-2600V","x":1.04,"y":0.04},{"v":"-2600V","x":1.06,"y":0.06},{"v":"-2600V","x":1.08,"y":0.04},{"v":"-2600V","x":1.1,"y":0.05},{"v":"-2600V","x":1.12,"y":0.03},{"v":"-2600V","x":1.14,"y":0.05},{"v":"-2600V","x":1.16,"y":0.04},{"v":"-2600V","x":1.18,"y":0.06},{"v":"-2600V","x":1.2,"y":0.04},
{"v":"-2500V","x":0,"y":0.96},{"v":"-2500V","x":0.01,"y":0.98},{"v":"-2500V","x":0.02,"y":1.0},{"v":"-2500V","x":0.03,"y":1.05},{"v":"-2500V","x":0.04,"y":1.08},{"v":"-2500V","x":0.05,"y":1.12},{"v":"-2500V","x":0.06,"y":1.15},{"v":"-2500V","x":0.07,"y":1.1},{"v":"-2500V","x":0.08,"y":1.07},{"v":"-2500V","x":0.1,"y":1.06},{"v":"-2500V","x":0.11,"y":1.09},{"v":"-2500V","x":0.12,"y":1.03},{"v":"-2500V","x":0.14,"y":0.97},{"v":"-2500V","x":0.16,"y":0.96},{"v":"-2500V","x":0.18,"y":0.97},{"v":"-2500V","x":0.2,"y":0.96},{"v":"-2500V","x":0.22,"y":0.98},{"v":"-2500V","x":0.23,"y":1.05},{"v":"-2500V","x":0.25,"y":0.98},{"v":"-2500V","x":0.27,"y":0.94},{"v":"-2500V","x":0.29,"y":0.96},{"v":"-2500V","x":0.31,"y":0.93},{"v":"-2500V","x":0.33,"y":0.95},{"v":"-2500V","x":0.36,"y":0.96},{"v":"-2500V","x":0.38,"y":0.93},{"v":"-2500V","x":0.4,"y":0.92},{"v":"-2500V","x":0.42,"y":0.94},{"v":"-2500V","x":0.44,"y":0.9},{"v":"-2500V","x":0.46,"y":0.92},{"v":"-2500V","x":0.48,"y":0.89},{"v":"-2500V","x":0.5,"y":0.91},{"v":"-2500V","x":0.53,"y":0.93},{"v":"-2500V","x":0.55,"y":0.87},{"v":"-2500V","x":0.57,"y":0.9},{"v":"-2500V","x":0.59,"y":0.92},{"v":"-2500V","x":0.61,"y":0.86},{"v":"-2500V","x":0.63,"y":0.88},{"v":"-2500V","x":0.66,"y":0.88},{"v":"-2500V","x":0.68,"y":0.84},{"v":"-2500V","x":0.7,"y":0.85},{"v":"-2500V","x":0.72,"y":0.84},{"v":"-2500V","x":0.74,"y":0.82},{"v":"-2500V","x":0.76,"y":0.83},{"v":"-2500V","x":0.78,"y":0.83},{"v":"-2500V","x":0.8,"y":0.8},{"v":"-2500V","x":0.82,"y":0.82},{"v":"-2500V","x":0.83,"y":0.87},{"v":"-2500V","x":0.84,"y":0.8},{"v":"-2500V","x":0.85,"y":0.76},{"v":"-2500V","x":0.86,"y":0.74},{"v":"-2500V","x":0.87,"y":0.8},{"v":"-2500V","x":0.88,"y":0.72},{"v":"-2500V","x":0.9,"y":0.64},{"v":"-2500V","x":0.92,"y":0.56},{"v":"-2500V","x":0.94,"y":0.5},{"v":"-2500V","x":0.96,"y":0.47},{"v":"-2500V","x":0.98,"y":0.38},{"v":"-2500V","x":0.99,"y":0.3},{"v":"-2500V","x":1.0,"y":0.2},{"v":"-2500V","x":1.01,"y":0.1},{"v":"-2500V","x":1.02,"y":0.06},{"v":"-2500V","x":1.04,"y":0.04},{"v":"-2500V","x":1.06,"y":0.05},{"v":"-2500V","x":1.075,"y":0.09},{"v":"-2500V","x":1.09,"y":0.03},{"v":"-2500V","x":1.1,"y":-0.02},{"v":"-2500V","x":1.12,"y":0.04},{"v":"-2500V","x":1.15,"y":0.08},{"v":"-2500V","x":1.17,"y":0.05},{"v":"-2500V","x":1.2,"y":0.06},
{"v":"-2400V","x":0,"y":0.97},{"v":"-2400V","x":0.01,"y":1.0},{"v":"-2400V","x":0.02,"y":0.99},{"v":"-2400V","x":0.03,"y":1.05},{"v":"-2400V","x":0.04,"y":1.1},{"v":"-2400V","x":0.05,"y":1.2},{"v":"-2400V","x":0.06,"y":1.1},{"v":"-2400V","x":0.07,"y":0.89},{"v":"-2400V","x":0.08,"y":0.9},{"v":"-2400V","x":0.09,"y":0.92},{"v":"-2400V","x":0.1,"y":1.03},{"v":"-2400V","x":0.11,"y":0.98},{"v":"-2400V","x":0.115,"y":0.85},{"v":"-2400V","x":0.125,"y":1.05},{"v":"-2400V","x":0.14,"y":1.15},{"v":"-2400V","x":0.15,"y":1.13},{"v":"-2400V","x":0.165,"y":1.19},{"v":"-2400V","x":0.18,"y":1.1},{"v":"-2400V","x":0.195,"y":1.04},{"v":"-2400V","x":0.205,"y":1.08},{"v":"-2400V","x":0.22,"y":1.13},{"v":"-2400V","x":0.24,"y":1.08},{"v":"-2400V","x":0.255,"y":0.99},{"v":"-2400V","x":0.275,"y":0.98},{"v":"-2400V","x":0.295,"y":1.08},{"v":"-2400V","x":0.315,"y":0.97},{"v":"-2400V","x":0.34,"y":1.01},{"v":"-2400V","x":0.36,"y":0.93},{"v":"-2400V","x":0.38,"y":0.97},{"v":"-2400V","x":0.4,"y":1.01},{"v":"-2400V","x":0.42,"y":1.02},{"v":"-2400V","x":0.44,"y":0.94},{"v":"-2400V","x":0.46,"y":0.97},{"v":"-2400V","x":0.48,"y":0.92},{"v":"-2400V","x":0.5,"y":0.96},{"v":"-2400V","x":0.53,"y":0.97},{"v":"-2400V","x":0.55,"y":0.88},{"v":"-2400V","x":0.57,"y":0.89},{"v":"-2400V","x":0.6,"y":0.92},{"v":"-2400V","x":0.63,"y":0.95},{"v":"-2400V","x":0.655,"y":0.99},{"v":"-2400V","x":0.67,"y":0.89},{"v":"-2400V","x":0.69,"y":0.86},{"v":"-2400V","x":0.72,"y":0.91},{"v":"-2400V","x":0.75,"y":0.83},{"v":"-2400V","x":0.77,"y":0.81},{"v":"-2400V","x":0.79,"y":0.79},{"v":"-2400V","x":0.81,"y":0.82},{"v":"-2400V","x":0.84,"y":0.84},{"v":"-2400V","x":0.86,"y":0.76},{"v":"-2400V","x":0.88,"y":0.66},{"v":"-2400V","x":0.9,"y":0.6},{"v":"-2400V","x":0.92,"y":0.55},{"v":"-2400V","x":0.94,"y":0.5},{"v":"-2400V","x":0.96,"y":0.46},{"v":"-2400V","x":0.98,"y":0.35},{"v":"-2400V","x":0.99,"y":0.27},{"v":"-2400V","x":1.0,"y":0.15},{"v":"-2400V","x":1.01,"y":0.06},{"v":"-2400V","x":1.02,"y":0.02},{"v":"-2400V","x":1.04,"y":0.0},{"v":"-2400V","x":1.06,"y":-0.04},{"v":"-2400V","x":1.08,"y":0.01},{"v":"-2400V","x":1.1,"y":-0.02},{"v":"-2400V","x":1.12,"y":0.02},{"v":"-2400V","x":1.14,"y":-0.01},{"v":"-2400V","x":1.16,"y":0.03},{"v":"-2400V","x":1.18,"y":0.0},{"v":"-2400V","x":1.2,"y":0.02},
{"v":"-2300V","x":0,"y":0.97},{"v":"-2300V","x":0.01,"y":0.99},{"v":"-2300V","x":0.02,"y":0.96},{"v":"-2300V","x":0.03,"y":1.03},{"v":"-2300V","x":0.04,"y":1.0},{"v":"-2300V","x":0.05,"y":1.06},{"v":"-2300V","x":0.06,"y":1.03},{"v":"-2300V","x":0.075,"y":1.13},{"v":"-2300V","x":0.09,"y":1.09},{"v":"-2300V","x":0.11,"y":1.02},{"v":"-2300V","x":0.125,"y":0.98},{"v":"-2300V","x":0.145,"y":1.07},{"v":"-2300V","x":0.16,"y":0.93},{"v":"-2300V","x":0.18,"y":0.9},{"v":"-2300V","x":0.2,"y":0.92},{"v":"-2300V","x":0.22,"y":0.89},{"v":"-2300V","x":0.24,"y":0.9},{"v":"-2300V","x":0.26,"y":0.89},{"v":"-2300V","x":0.28,"y":0.88},{"v":"-2300V","x":0.31,"y":0.85},{"v":"-2300V","x":0.33,"y":0.89},{"v":"-2300V","x":0.36,"y":0.9},{"v":"-2300V","x":0.38,"y":0.87},{"v":"-2300V","x":0.4,"y":0.88},{"v":"-2300V","x":0.42,"y":0.86},{"v":"-2300V","x":0.43,"y":0.79},{"v":"-2300V","x":0.45,"y":0.84},{"v":"-2300V","x":0.47,"y":0.85},{"v":"-2300V","x":0.5,"y":0.76},{"v":"-2300V","x":0.515,"y":0.72},{"v":"-2300V","x":0.54,"y":0.8},{"v":"-2300V","x":0.56,"y":0.78},{"v":"-2300V","x":0.59,"y":0.82},{"v":"-2300V","x":0.62,"y":0.75},{"v":"-2300V","x":0.64,"y":0.79},{"v":"-2300V","x":0.66,"y":0.78},{"v":"-2300V","x":0.69,"y":0.8},{"v":"-2300V","x":0.71,"y":0.67},{"v":"-2300V","x":0.73,"y":0.77},{"v":"-2300V","x":0.75,"y":0.68},{"v":"-2300V","x":0.77,"y":0.74},{"v":"-2300V","x":0.79,"y":0.79},{"v":"-2300V","x":0.81,"y":0.64},{"v":"-2300V","x":0.83,"y":0.7},{"v":"-2300V","x":0.85,"y":0.67},{"v":"-2300V","x":0.87,"y":0.62},{"v":"-2300V","x":0.89,"y":0.58},{"v":"-2300V","x":0.91,"y":0.5},{"v":"-2300V","x":0.93,"y":0.44},{"v":"-2300V","x":0.95,"y":0.42},{"v":"-2300V","x":0.97,"y":0.35},{"v":"-2300V","x":0.98,"y":0.28},{"v":"-2300V","x":0.99,"y":0.2},{"v":"-2300V","x":1.0,"y":0.1},{"v":"-2300V","x":1.01,"y":0.04},{"v":"-2300V","x":1.02,"y":0.0},{"v":"-2300V","x":1.04,"y":-0.03},{"v":"-2300V","x":1.06,"y":0.02},{"v":"-2300V","x":1.08,"y":0.0},{"v":"-2300V","x":1.1,"y":-0.03},{"v":"-2300V","x":1.12,"y":0.01},{"v":"-2300V","x":1.14,"y":-0.02},{"v":"-2300V","x":1.16,"y":0.0},{"v":"-2300V","x":1.18,"y":-0.06},{"v":"-2300V","x":1.2,"y":-0.02}
]
},
"hconcat":[
{
 "width":463,"height":350,
 "title":{"text":"FAM110A RPA positive voltage"},
 "resolve":{"axis":{"x":"independent","y":"independent"}},
 "layer":[
  {
   "data":{"values":[{}]},
   "mark":{"type":"point","opacity":0},
   "encoding":{
    "x":{"datum":0,"type":"quantitative","scale":{"domain":[0,1.2],"nice":false,"zero":false},
         "axis":{"orient":"bottom","values":[0,0.05,0.1,0.15,0.2,0.25,0.3,0.35,0.4,0.45,0.5,0.55,0.6,0.65,0.7,0.75,0.8,0.85,0.9,0.95,1,1.05,1.1,1.15,1.2],"labels":false,"ticks":false,"grid":true,"gridDash":[1,3],"gridOpacity":0.3,"title":"(a)  Positive thruster voltages.","titleFont":"Liberation Serif","titleFontSize":16,"titleColor":"#000000","titlePadding":83}},
    "y":{"datum":0,"type":"quantitative","scale":{"domain":[-0.2,1.2],"nice":false,"zero":false},
         "axis":{"orient":"left","values":[-0.2,-0.15,-0.1,-0.05,0,0.05,0.1,0.15,0.2,0.25,0.3,0.35,0.4,0.45,0.5,0.55,0.6,0.65,0.7,0.75,0.8,0.85,0.9,0.95,1,1.05,1.1,1.15,1.2],"labels":false,"ticks":false,"grid":true,"gridDash":[1,3],"gridOpacity":0.3,"title":null}}
   }
  },
  {
   "data":{"name":"pos"},
   "mark":{"type":"line","strokeWidth":1.1,"clip":true},
   "encoding":{
    "x":{"field":"x","type":"quantitative","axis":{"orient":"bottom","values":[0,0.2,0.4,0.6,0.8,1,1.2],"labelExpr":"'' + datum.value","grid":true,"ticks":true,"tickSize":-5,"labelPadding":13,"title":"Normalized retarding potential, U/U₀","titlePadding":11}},
    "y":{"field":"y","type":"quantitative","axis":{"orient":"left","values":[-0.2,0,0.2,0.4,0.6,0.8,1,1.2],"labelExpr":"'' + datum.value","grid":true,"ticks":true,"tickSize":-5,"labelPadding":11,"title":"Normalized RPA current, Iᵣₚₐ/Iᵣₚₐ₀","titlePadding":16}},
    "color":{"field":"v","type":"nominal","scale":{"domain":["+3000V","+2900V","+2800V","+2700V","+2600V","+2500V","+2400V","+2300V"],"range":["#0000ff","#ff0000","#000000","#00ff00","#ff00ff","#00ffff","#ff0000","#000000"]},
      "legend":{"title":null,"orient":"none","legendX":16,"legendY":127}},
    "strokeDash":{"field":"v","type":"nominal","scale":{"domain":["+3000V","+2900V","+2800V","+2700V","+2600V","+2500V","+2400V","+2300V"],"range":[[1,0],[1,0],[1,0],[1,0],[1,0],[1,0],[6,3,1.5,3],[6,3,1.5,3]]},
      "legend":{"title":null,"orient":"none","legendX":16,"legendY":127}}
   }
  }
 ]
},
{
 "width":463,"height":350,
 "title":{"text":"FAM110A RPA negative voltage"},
 "resolve":{"axis":{"x":"independent","y":"independent"}},
 "layer":[
  {
   "data":{"values":[{}]},
   "mark":{"type":"point","opacity":0},
   "encoding":{
    "x":{"datum":0,"type":"quantitative","scale":{"domain":[0,1.2],"nice":false,"zero":false},
         "axis":{"orient":"bottom","values":[0,0.05,0.1,0.15,0.2,0.25,0.3,0.35,0.4,0.45,0.5,0.55,0.6,0.65,0.7,0.75,0.8,0.85,0.9,0.95,1,1.05,1.1,1.15,1.2],"labels":false,"ticks":false,"grid":true,"gridDash":[1,3],"gridOpacity":0.3,"title":"(b)  Negative thruster voltages.","titleFont":"Liberation Serif","titleFontSize":16,"titleColor":"#000000","titlePadding":83}},
    "y":{"datum":0,"type":"quantitative","scale":{"domain":[-0.2,1.2],"nice":false,"zero":false},
         "axis":{"orient":"left","values":[-0.2,-0.15,-0.1,-0.05,0,0.05,0.1,0.15,0.2,0.25,0.3,0.35,0.4,0.45,0.5,0.55,0.6,0.65,0.7,0.75,0.8,0.85,0.9,0.95,1,1.05,1.1,1.15,1.2],"labels":false,"ticks":false,"grid":true,"gridDash":[1,3],"gridOpacity":0.3,"title":null}}
   }
  },
  {
   "data":{"name":"neg"},
   "mark":{"type":"line","strokeWidth":1.1,"clip":true},
   "encoding":{
    "x":{"field":"x","type":"quantitative","axis":{"orient":"bottom","values":[0,0.2,0.4,0.6,0.8,1,1.2],"labelExpr":"'' + datum.value","grid":true,"ticks":true,"tickSize":-5,"labelPadding":13,"title":"Normalized retarding potential, U/U₀","titlePadding":11}},
    "y":{"field":"y","type":"quantitative","axis":{"orient":"left","values":[-0.2,0,0.2,0.4,0.6,0.8,1,1.2],"labelExpr":"'' + datum.value","grid":true,"ticks":true,"tickSize":-5,"labelPadding":11,"title":"Normalized RPA current, Iᵣₚₐ/Iᵣₚₐ₀","titlePadding":16}},
    "color":{"field":"v","type":"nominal","scale":{"domain":["-3000V","-2900V","-2800V","-2700V","-2600V","-2500V","-2400V","-2300V"],"range":["#0000ff","#ff0000","#000000","#00ff00","#ff00ff","#00ffff","#ff0000","#000000"]},
      "legend":{"title":null,"orient":"none","legendX":16,"legendY":127}},
    "strokeDash":{"field":"v","type":"nominal","scale":{"domain":["-3000V","-2900V","-2800V","-2700V","-2600V","-2500V","-2400V","-2300V"],"range":[[1,0],[1,0],[1,0],[1,0],[1,0],[1,0],[6,3,1.5,3],[6,3,1.5,3]]},
      "legend":{"title":null,"orient":"none","legendX":16,"legendY":127}}
   }
  }
 ]
}
],
"resolve":{"scale":{"color":"independent","strokeDash":"independent"},"legend":{"color":"independent","strokeDash":"independent"}}
}
